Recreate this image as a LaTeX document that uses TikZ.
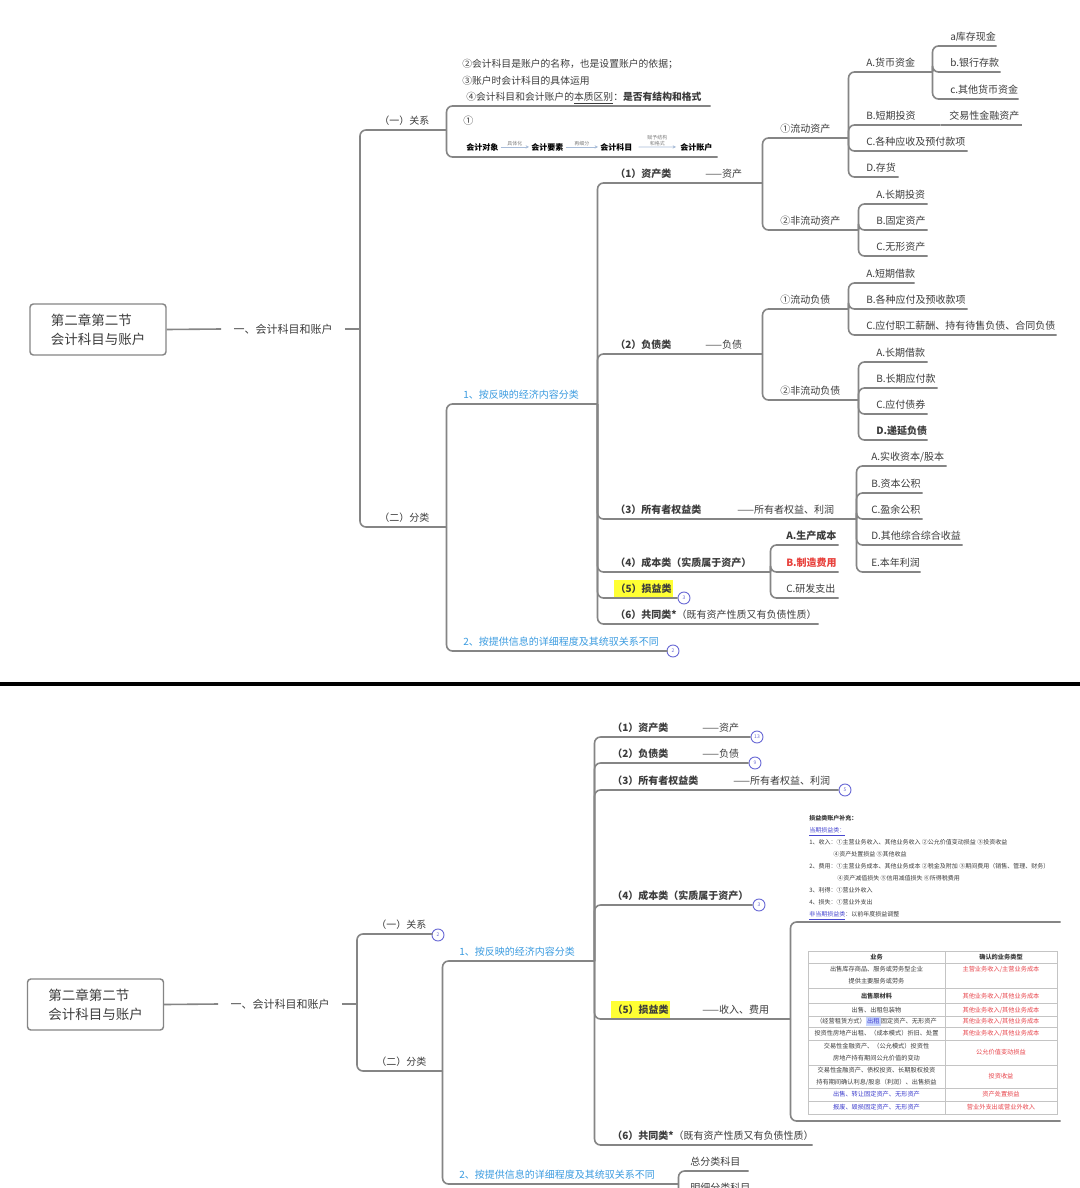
\documentclass[tikz,border=0pt]{standalone}
\usepackage{fontspec}
\setmainfont{Noto Sans CJK SC}
\usetikzlibrary{arrows.meta}
\newdimen\pxu \pxu=0.75pt
\newcommand\fpx[2]{\pgfmathsetmacro\fpxa{#1*0.75}\pgfmathsetmacro\fpxb{#2*0.75}\fontsize{\fpxa pt}{\fpxb pt}\selectfont}
\definecolor{linec}{HTML}{858585}
\definecolor{txt}{HTML}{3C3C3C}
\definecolor{bluec}{HTML}{3A9BE0}
\definecolor{redc}{HTML}{E8413C}
\definecolor{hly}{HTML}{FFFF33}
\definecolor{bdc}{HTML}{6A6AD6}
\definecolor{flowc}{HTML}{A8BCD8}
\definecolor{tbll}{HTML}{C4C4C4}
\definecolor{tblr}{HTML}{E8454C}
\definecolor{tblb}{HTML}{3B3BCC}
\definecolor{hlb}{HTML}{C9D6FF}
\definecolor{supb}{HTML}{4848D0}
\setlength{\fboxsep}{1pt}
\newcommand\mm[7]{\pgfmathsetmacro\mmw{(#4-#2)*0.75}\node[mmn,#6] (#1) at (#2,#3) {\makebox[\mmw pt][l]{\hspace*{#5\pxu}#7}};}
\newcommand\cn[2]{\draw[brl] (#1.south east) |- (#2.south east);}
\begin{document}
\begin{tikzpicture}[x=0.75pt,y=-0.75pt,
  mmn/.style={anchor=south west, inner sep=0pt, text depth=3.75pt, font=\fpx{10}{12}, text=txt},
  brl/.style={draw=linec, line width=1.2pt, rounded corners=4.5pt},
  badge/.style={circle, draw=bdc, line width=0.7pt, inner sep=0pt, minimum size=9pt, text=bdc, font=\fpx{5}{6}},
  rootbox/.style={draw=linec, line width=1.1pt, rounded corners=2.5pt, minimum width=102pt, minimum height=38.25pt, align=left, font=\fpx{13.5}{19}, text=txt},
  lone/.style={inner xsep=9pt, inner ysep=2pt, font=\fpx{11}{13}, text=txt},
  flow/.style={anchor=base west, inner sep=1.5pt, font=\fpx{8}{10}\bfseries, text=black},
  flowa/.style={draw=flowc, line width=0.6pt, -{Stealth[length=2.5pt,width=2.5pt]}},
  flowl/.style={above=0.3pt, inner sep=0.5pt, font=\fpx{5}{5.5}, text=gray, align=center},
  tc/.style={inner sep=0pt, align=center, font=\fpx{6.2}{12}, text=txt},
  tr/.style={tc, text=tblr},
  tbl/.style={draw=tbll, line width=0.5pt}
]
\useasboundingbox (0,0) rectangle (1080,1188);
\fill[white] (0,0) rectangle (1080,1188);
\clip (0,0) rectangle (1080,1188);

%================ TOP HALF ================
\node[rootbox] (rootA) at (98,329.5) {第二章第二节\\会计科目与账户};
\node[lone] (lA) at (283,329) {一、会计科目和账户};
\coordinate (sA) at (360,329);
\draw[brl] (rootA.east) -- (lA.west);
\draw[brl] (lA.east) -- (sA);

\mm{gxa}{360}{130}{446}{19}{}{（一）关系}
\mm{gxb}{360}{527}{446}{19}{}{（二）分类}
\draw[brl] (sA) |- (gxa.south east);
\draw[brl] (sA) |- (gxb.south east);

\mm{rel2}{446}{106}{710}{16}{font=\fpx{9.8}{16.5}}{\begin{tabular}[b]{@{}l@{}}②会计科目是账户的名称，也是设置账户的依据；\\③账户时会计科目的具体运用\\\hspace*{4\pxu}④会计科目和会计账户的\underline{本质区别}：\textbf{是否有结构和格式}\end{tabular}}
\mm{rel1}{446}{157}{717}{17}{}{\raisebox{27\pxu}{①}}
\cn{gxa}{rel2}
\cn{gxa}{rel1}

\node[flow] (fo1) at (464,150) {会计对象};
\node[flow] (fo2) at (529,150) {会计要素};
\node[flow] (fo3) at (598,150) {会计科目};
\node[flow] (fo4) at (678,150) {会计账户};
\draw[flowa] (fo1.east) -- node[flowl] (fl1) {具体化} (fo2.west);
\draw[flowa] (fo2.east) -- node[flowl] (fl2) {再细分} (fo3.west);
\draw[flowa] (fo3.east) ++(4,0) -- node[flowl] (fl3) {赋予结构\\和格式} ([xshift=-2\pxu]fo4.west);

\mm{cl1}{446}{404}{597}{17}{text=bluec}{1、按反映的经济内容分类}
\mm{cl2}{446}{651}{667}{17}{text=bluec}{2、按提供信息的详细程度及其统驭关系不同}
\node[badge] (bg1) at (673,651) {2};
\cn{gxb}{cl1}
\cn{gxb}{cl2}

\mm{kA}{597}{183}{762}{18}{}{\makebox[90\pxu][l]{\bfseries（1）资产类}——资产}
\mm{kB}{597}{354}{762}{18}{}{\makebox[90\pxu][l]{\bfseries（2）负债类}——负债}
\mm{kC}{597}{519}{856}{18}{}{\makebox[122\pxu][l]{\bfseries（3）所有者权益类}——所有者权益、利润}
\mm{kD}{597}{572}{770}{18}{}{\textbf{（4）成本类（实质属于资产）}}
\mm{kE}{597}{598}{677}{17}{}{\colorbox{hly}{\rule[-3.5\pxu]{0pt}{15\pxu}\bfseries（5）损益类}}
\mm{kF}{597}{624}{818}{18}{}{\textbf{（6）共同类*}（既有资产性质又有负债性质）}
\node[badge] (bg2) at (684,598) {3};
\foreach \k in {kA,kB,kC,kD,kE,kF}{\cn{cl1}{\k}}

% assets
\mm{aA}{762}{138}{848}{18}{}{①流动资产}
\mm{aB}{762}{230}{858}{18}{}{②非流动资产}
\cn{kA}{aA}
\cn{kA}{aB}
\mm{aA1}{848}{72}{932}{18}{}{A.货币资金}
\mm{aA2}{848}{125}{940}{18}{}{B.短期投资}
\mm{aA21}{940}{125}{1021}{9}{}{交易性金融资产}
\mm{aA3}{848}{151}{967}{18}{}{C.各种应收及预付款项}
\mm{aA4}{848}{177}{898}{18}{}{D.存货}
\foreach \k in {aA1,aA2,aA3,aA4}{\cn{aA}{\k}}
\draw[brl] (aA2.south east) -- (aA21.south east);
\mm{aA11}{932}{46}{996}{18}{}{a库存现金}
\mm{aA12}{932}{72}{1000}{18}{}{b.银行存款}
\mm{aA13}{932}{99}{1018}{18}{}{c.其他货币资金}
\foreach \k in {aA11,aA12,aA13}{\cn{aA1}{\k}}
\mm{aB1}{858}{204}{927}{18}{}{A.长期投资}
\mm{aB2}{858}{230}{927}{18}{}{B.固定资产}
\mm{aB3}{858}{256}{927}{18}{}{C.无形资产}
\foreach \k in {aB1,aB2,aB3}{\cn{aB}{\k}}

% liabilities
\mm{bA}{762}{309}{848}{18}{}{①流动负债}
\mm{bB}{762}{400}{858}{18}{}{②非流动负债}
\cn{kB}{bA}
\cn{kB}{bB}
\mm{bA1}{848}{283}{914}{18}{}{A.短期借款}
\mm{bA2}{848}{309}{967}{18}{}{B.各种应付及预收款项}
\mm{bA3}{848}{335}{1056}{18}{}{C.应付职工薪酬、持有待售负债、合同负债}
\foreach \k in {bA1,bA2,bA3}{\cn{bA}{\k}}
\mm{bB1}{858}{362}{927}{18}{}{A.长期借款}
\mm{bB2}{858}{388}{937}{18}{}{B.长期应付款}
\mm{bB3}{858}{414}{927}{18}{}{C.应付债券}
\mm{bB4}{858}{440}{927}{18}{}{\textbf{D.递延负债}}
\foreach \k in {bB1,bB2,bB3,bB4}{\cn{bB}{\k}}

% equity
\mm{cA}{856}{466}{946}{15}{}{A.实收资本/股本}
\mm{cB}{856}{493}{922}{15}{}{B.资本公积}
\mm{cC}{856}{519}{922}{15}{}{C.盈余公积}
\mm{cD}{856}{545}{962}{15}{}{D.其他综合综合收益}
\mm{cE}{856}{572}{920}{15}{}{E.本年利润}
\foreach \k in {cA,cB,cC,cD,cE}{\cn{kC}{\k}}

% cost
\mm{dA}{770}{545}{838}{16}{}{\textbf{A.生产成本}}
\mm{dB}{770}{572}{838}{16}{text=redc}{\textbf{B.制造费用}}
\mm{dC}{770}{598}{838}{16}{}{C.研发支出}
\foreach \k in {dA,dB,dC}{\cn{kD}{\k}}

%================ SEPARATOR ================
\draw[line width=3pt, black] (0,684) -- (1080,684);

%================ BOTTOM HALF ================
\node[rootbox] (rootB) at (95.5,1004.5) {第二章第二节\\会计科目与账户};
\node[lone] (lB) at (280,1004) {一、会计科目和账户};
\coordinate (sB) at (357,1004);
\draw[brl] (rootB.east) -- (lB.west);
\draw[brl] (lB.east) -- (sB);

\mm{gya}{357}{934}{432}{19}{}{（一）关系}
\node[badge] (bg3) at (438,935) {2};
\mm{gyb}{357}{1071}{442}{19}{}{（二）分类}
\draw[brl] (sB) |- (gya.south east);
\draw[brl] (sB) |- (gyb.south east);

\mm{dl1}{442}{961}{594}{17}{text=bluec}{1、按反映的经济内容分类}
\mm{dl2}{442}{1184}{678}{17}{text=bluec}{2、按提供信息的详细程度及其统驭关系不同}
\cn{gyb}{dl1}
\cn{gyb}{dl2}
\mm{dl21}{678}{1171}{748}{12}{}{总分类科目}
\mm{dl22}{678}{1197}{756}{12}{}{明细分类科目}
\cn{dl2}{dl21}
\cn{dl2}{dl22}

\mm{mA}{594}{737}{750}{18}{}{\makebox[90\pxu][l]{\bfseries（1）资产类}——资产}
\mm{mB}{594}{763}{748}{18}{}{\makebox[90\pxu][l]{\bfseries（2）负债类}——负债}
\mm{mC}{594}{790}{838}{18}{}{\makebox[121\pxu][l]{\bfseries（3）所有者权益类}——所有者权益、利润}
\mm{mD}{594}{905}{752}{18}{}{\textbf{（4）成本类（实质属于资产）}}
\mm{mE}{594}{1019}{790}{17}{}{\makebox[91\pxu][l]{\colorbox{hly}{\rule[-3.5\pxu]{0pt}{15\pxu}\bfseries（5）损益类}}——收入、费用}
\mm{mF}{594}{1145}{812}{18}{}{\textbf{（6）共同类*}（既有资产性质又有负债性质）}
\node[badge] (bg4) at (757,737) {13};
\node[badge] (bg5) at (755,763) {9};
\node[badge] (bg6) at (845,790) {5};
\node[badge] (bg7) at (759,905) {3};
\foreach \k in {mA,mB,mC,mD,mE,mF}{\cn{dl1}{\k}}

\mm{sup}{790}{922}{1060}{19}{font=\fpx{6}{12}}{\begin{tabular}[b]{@{}l@{}}\textbf{损益类账户补充：}\\\textcolor{supb}{\underline{当期损益类：}}\\1、收入：①主营业务收入、其他业务收入 ②公允价值变动损益 ③投资收益\\\hspace*{24\pxu}④资产处置损益 ⑤其他收益\\2、费用：①主营业务成本、其他业务成本 ②税金及附加 ③期间费用（销售、管理、财务）\\\hspace*{28\pxu}④资产减值损失 ⑤信用减值损失 ⑥所得税费用\\3、利得：①营业外收入\\4、损失：①营业外支出\\\textcolor{supb}{\underline{非当期损益类}}：以前年度损益调整\end{tabular}}
\mm{tbl}{790}{1121}{1060}{0}{}{}
\cn{mE}{sup}
\cn{mE}{tbl}

% table
\draw[tbl] (808,951) rectangle (1057,1114);
\draw[tbl] (945,951) -- (945,1114);
\foreach \yy in {963,988,1003,1016,1027,1040,1065,1088,1101}{\draw[tbl] (808,\yy) -- (1057,\yy);}
\node[tc] (t0a) at (876.5,957) {\textbf{业务}};
\node[tc] (t0b) at (1001,957) {\textbf{确认的业务类型}};
\node[tc] (t1a) at (876.5,975) {出售库存商品、服务或劳务型企业\\提供主要服务或劳务};
\node[tr] (t1b) at (1001,969) {主营业务收入/主营业务成本};
\node[tc] (t2a) at (876.5,996) {\textbf{出售原材料}};
\node[tr] (t2b) at (1001,996) {其他业务收入/其他业务成本};
\node[tc] (t3a) at (876.5,1010) {出售、出租包装物};
\node[tr] (t3b) at (1001,1010) {其他业务收入/其他业务成本};
\node[tc] (t4a) at (876.5,1021.5) {（经营租赁方式）\colorbox{hlb}{\textcolor{tblb}{出租}}固定资产、无形资产};
\node[tr] (t4b) at (1001,1021.5) {其他业务收入/其他业务成本};
\node[tc] (t5a) at (876.5,1033.5) {投资性房地产出租、（成本模式）折旧、处置};
\node[tr] (t5b) at (1001,1033.5) {其他业务收入/其他业务成本};
\node[tc] (t6a) at (876.5,1052.5) {交易性金融资产、（公允模式）投资性\\房地产持有期间公允价值的变动};
\node[tr] (t6b) at (1001,1052.5) {公允价值变动损益};
\node[tc] (t7a) at (876.5,1076.5) {交易性金融资产、债权投资、长期股权投资\\持有期间确认利息/股息（利润）、出售损益};
\node[tr] (t7b) at (1001,1076.5) {投资收益};
\node[tc, text=tblb] (t8a) at (876.5,1094.5) {出售、转让固定资产、无形资产};
\node[tr] (t8b) at (1001,1094.5) {资产处置损益};
\node[tc, text=tblb] (t9a) at (876.5,1107.5) {报废、毁损固定资产、无形资产};
\node[tr] (t9b) at (1001,1107.5) {营业外支出或营业外收入};
\end{tikzpicture}
\end{document}
